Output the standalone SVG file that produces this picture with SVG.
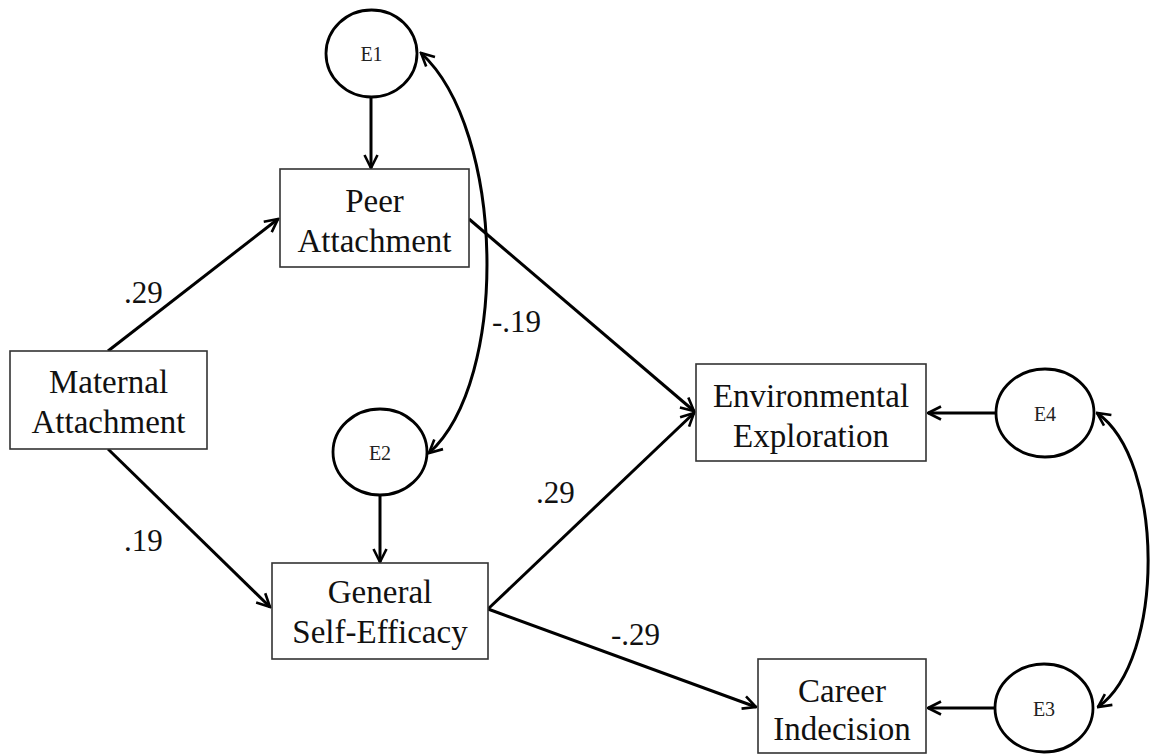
<svg xmlns="http://www.w3.org/2000/svg" width="1153" height="756" viewBox="0 0 1153 756">
<style>
.box{fill:#fff;stroke:#333;stroke-width:1.6}
.ell{fill:#fff;stroke:#000;stroke-width:2.8}
.t{font-family:"Liberation Serif","Times New Roman",serif;font-size:33px;fill:#111;text-anchor:middle}
.e{font-family:"Liberation Serif","Times New Roman",serif;font-size:20px;fill:#222;text-anchor:middle}
.lbl{font-family:"Liberation Serif","Times New Roman",serif;font-size:31px;fill:#111}
.c{fill:none;stroke:#000;stroke-width:3}
</style>
<defs>
<marker id="ah" viewBox="0 0 16 16" refX="14.5" refY="8" markerWidth="16" markerHeight="16" markerUnits="userSpaceOnUse" orient="auto-start-reverse">
<path d="M1.5,1.5 L14.5,8 L1.5,14.5" fill="none" stroke="#000" stroke-width="2.6" stroke-linejoin="miter"/>
</marker>
</defs>
<rect width="1153" height="756" fill="#fff"/>
<g id="connectors">
<line class="c" x1="108" y1="351" x2="278" y2="219" marker-end="url(#ah)"/>
<line class="c" x1="108" y1="449" x2="270" y2="607" marker-end="url(#ah)"/>
<line class="c" x1="371" y1="97" x2="371" y2="168" marker-end="url(#ah)"/>
<line class="c" x1="380" y1="495" x2="380" y2="562" marker-end="url(#ah)"/>
<line class="c" x1="469" y1="219" x2="694" y2="411" marker-end="url(#ah)"/>
<line class="c" x1="488" y1="609" x2="694" y2="413" marker-end="url(#ah)"/>
<line class="c" x1="488" y1="609" x2="756" y2="707" marker-end="url(#ah)"/>
<line class="c" x1="996" y1="413" x2="928" y2="413" marker-end="url(#ah)"/>
<line class="c" x1="995" y1="708" x2="928" y2="708" marker-end="url(#ah)"/>
<path class="c" d="M421,53 C505,130 510,380 429,453" marker-start="url(#ah)" marker-end="url(#ah)"/>
<path class="c" d="M1097,413 C1165,460 1165,660 1098,707" marker-start="url(#ah)" marker-end="url(#ah)"/>
</g>
<g id="labels">
<text class="lbl" x="124" y="303">.29</text>
<text class="lbl" x="492" y="332">-.19</text>
<text class="lbl" x="124" y="551">.19</text>
<text class="lbl" x="536" y="503">.29</text>
<text class="lbl" x="611" y="645">-.29</text>
</g>
<g id="maternal">
<rect class="box" x="10" y="351" width="197" height="98"/>
<text class="t" x="108.5" y="393">Maternal</text>
<text class="t" x="108.5" y="433">Attachment</text>
</g>
<g id="peer">
<rect class="box" x="280" y="169" width="189" height="98"/>
<text class="t" x="374.5" y="212">Peer</text>
<text class="t" x="374.5" y="252">Attachment</text>
</g>
<g id="gse">
<rect class="box" x="272" y="563" width="216" height="96"/>
<text class="t" x="380" y="603">General</text>
<text class="t" x="380" y="643">Self-Efficacy</text>
</g>
<g id="env">
<rect class="box" x="696" y="364" width="230" height="97"/>
<text class="t" x="811" y="407">Environmental</text>
<text class="t" x="811" y="447">Exploration</text>
</g>
<g id="career">
<rect class="box" x="758" y="659" width="168" height="94"/>
<text class="t" x="842" y="702">Career</text>
<text class="t" x="842" y="740">Indecision</text>
</g>
<g id="E1">
<ellipse class="ell" cx="371.5" cy="53.5" rx="45.5" ry="43.5"/>
<text class="e" x="371.5" y="61">E1</text>
</g>
<g id="E2">
<ellipse class="ell" cx="380" cy="452" rx="47" ry="43"/>
<text class="e" x="380" y="460">E2</text>
</g>
<g id="E4">
<ellipse class="ell" cx="1045" cy="413" rx="49" ry="44"/>
<text class="e" x="1045" y="421">E4</text>
</g>
<g id="E3">
<ellipse class="ell" cx="1044" cy="708" rx="49" ry="44"/>
<text class="e" x="1044" y="716">E3</text>
</g>
</svg>
